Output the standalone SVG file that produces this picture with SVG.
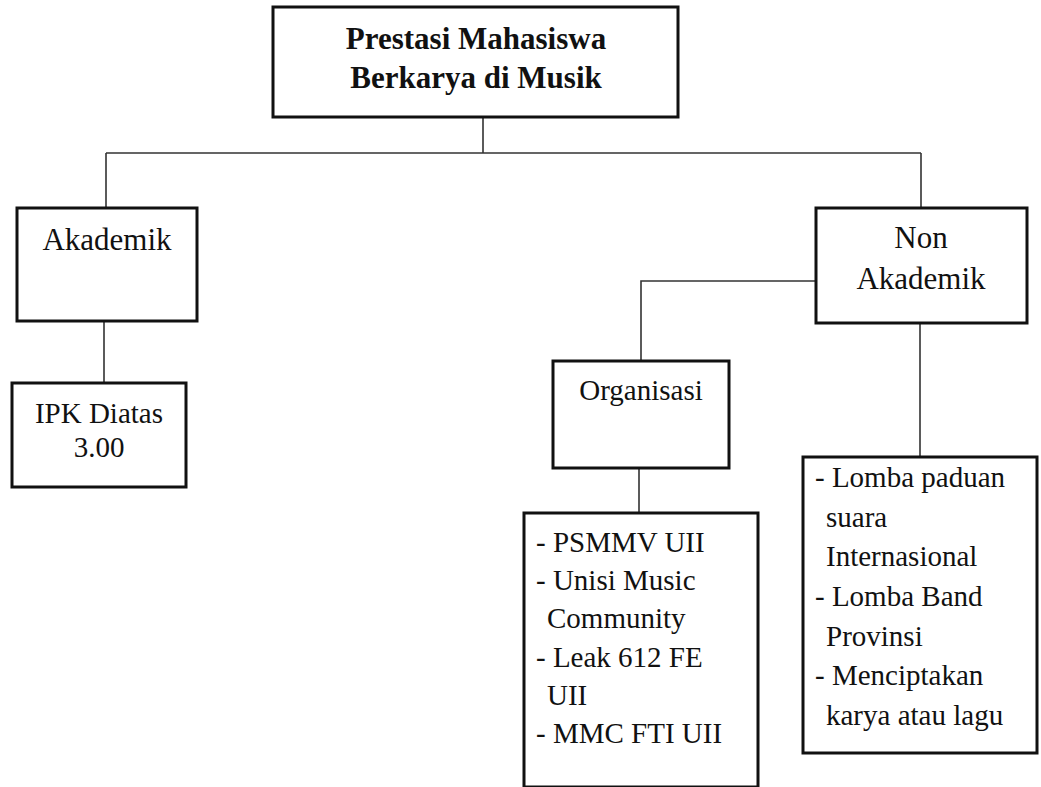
<svg xmlns="http://www.w3.org/2000/svg" width="1041" height="787" viewBox="0 0 1041 787">
<style>
.box{fill:#fff;stroke:#111;stroke-width:3}
.con{fill:none;stroke:#333;stroke-width:1.6}
.c{text-anchor:middle}
.t{font-weight:bold;font-size:31px}
.l{font-size:31px}
</style>
<rect width="1041" height="787" fill="#fff"/>
<g id="connectors">
<path class="con" d="M483,117V153M106,153H921M106,153V208M921,153V208M104,321V383M816,281H641V361M639,468V513M920,323V457"/>
</g>
<g font-family="Liberation Serif, DejaVu Serif, serif" font-size="29" fill="#111">
<g id="root">
<rect class="box" x="273" y="7" width="405" height="110"/>
<text class="c t" x="476" y="49">Prestasi Mahasiswa</text>
<text class="c t" x="476" y="88">Berkarya di Musik</text>
</g>
<g id="akademik">
<rect class="box" x="17" y="208" width="180" height="113"/>
<text class="c l" x="107" y="250">Akademik</text>
</g>
<g id="ipk">
<rect class="box" x="12" y="383" width="174" height="104"/>
<text class="c" x="99" y="423">IPK Diatas</text>
<text class="c" x="99" y="457">3.00</text>
</g>
<g id="nonakademik">
<rect class="box" x="816" y="208" width="211" height="115"/>
<text class="c l" x="921" y="248">Non</text>
<text class="c l" x="921" y="289">Akademik</text>
</g>
<g id="organisasi">
<rect class="box" x="553" y="361" width="176" height="107"/>
<text class="c" x="641" y="400">Organisasi</text>
</g>
<g id="organisasi-list">
<rect class="box" x="524" y="513" width="234" height="274"/>
<text x="536" y="552">- PSMMV UII</text>
<text x="536" y="590">- Unisi Music</text>
<text x="547" y="628">Community</text>
<text x="536" y="667">- Leak 612 FE</text>
<text x="547" y="705">UII</text>
<text x="536" y="743">- MMC FTI UII</text>
</g>
<g id="nonakademik-list">
<rect class="box" x="803" y="457" width="234" height="296"/>
<text x="815" y="487">- Lomba paduan</text>
<text x="826" y="527">suara</text>
<text x="826" y="566">Internasional</text>
<text x="815" y="606">- Lomba Band</text>
<text x="826" y="646">Provinsi</text>
<text x="815" y="685">- Menciptakan</text>
<text x="826" y="725">karya atau lagu</text>
</g>
</g>
</svg>
